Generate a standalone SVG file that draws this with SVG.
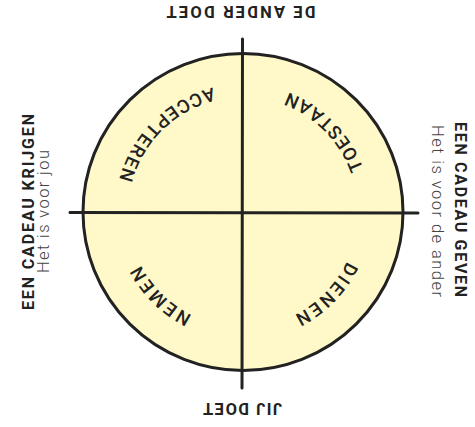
<svg xmlns="http://www.w3.org/2000/svg" width="475" height="427" viewBox="0 0 475 427">
  <defs>
    <style>
      .circ { fill: #FFF9C9; stroke: #222; stroke-width: 3; }
      .axis { stroke: #222; stroke-width: 3; stroke-linecap: round; fill: none; }
      .arcText { font-family: Roboto, "Liberation Sans", Arial, sans-serif; font-size: 18.5px; font-weight: 500; fill: #222; letter-spacing: 2.4px; }
      .axisLbl { font-family: Roboto, "Liberation Sans", Arial, sans-serif; font-size: 16.5px; font-weight: bold; fill: #222; }
      .sideBold { font-family: Roboto, "Liberation Sans", Arial, sans-serif; font-size: 16px; font-weight: bold; fill: #222; }
      .sideLight { font-family: Roboto, "Liberation Sans", Arial, sans-serif; font-size: 16.5px; font-weight: 300; fill: #444; }
    </style>
    <path id="arcTL" d="M276.1,88.4 A128,128 0 0 0 119.4,245.1"/>
    <path id="arcTR" d="M366.6,245.1 A128,128 0 0 0 209.9,88.4"/>
    <path id="arcBR" d="M354.1,182.2 A115,115 0 0 1 213.2,323.1"/>
    <path id="arcBL" d="M272.8,323.1 A115,115 0 0 1 131.9,182.2"/>
  </defs>

  <g id="circle">
    <ellipse class="circ" cx="243" cy="212" rx="160" ry="158.5"/>
  </g>

  <g id="connectors">
    <line class="axis" x1="70" y1="212.5" x2="418" y2="213"/>
    <line class="axis" x1="242.5" y1="39" x2="242" y2="388"/>
  </g>

  <g id="accepteren">
    <text class="arcText"><textPath href="#arcTL" startOffset="50%" text-anchor="middle">ACCEPTEREN</textPath></text>
  </g>
  <g id="toestaan">
    <text class="arcText"><textPath href="#arcTR" startOffset="50%" text-anchor="middle">TOESTAAN</textPath></text>
  </g>
  <g id="dienen">
    <text class="arcText"><textPath href="#arcBR" startOffset="50%" text-anchor="middle">DIENEN</textPath></text>
  </g>
  <g id="nemen">
    <text class="arcText"><textPath href="#arcBL" startOffset="50%" text-anchor="middle">NEMEN</textPath></text>
  </g>

  <g id="top-label">
    <text class="axisLbl" x="241" y="17.5" text-anchor="middle" textLength="149" lengthAdjust="spacing" transform="rotate(180 241 11.5)">DE ANDER DOET</text>
  </g>
  <g id="bottom-label">
    <text class="axisLbl" x="242.5" y="416.5" text-anchor="middle" textLength="79" lengthAdjust="spacing" transform="rotate(180 242.5 409.5)">JIJ DOET</text>
  </g>
  <g id="left-label">
    <text class="sideBold" transform="translate(33.5,212) rotate(-90)" text-anchor="middle" textLength="196" lengthAdjust="spacing">EEN CADEAU KRIJGEN</text>
    <text class="sideLight" transform="translate(49,211.5) rotate(-90)" text-anchor="middle" textLength="123" lengthAdjust="spacing">Het is voor jou</text>
  </g>
  <g id="right-label">
    <text class="sideBold" transform="translate(454.5,209.5) rotate(90)" text-anchor="middle" textLength="175" lengthAdjust="spacing">EEN CADEAU GEVEN</text>
    <text class="sideLight" transform="translate(432,211) rotate(90)" text-anchor="middle" textLength="172" lengthAdjust="spacing">Het is voor de ander</text>
  </g>
</svg>
